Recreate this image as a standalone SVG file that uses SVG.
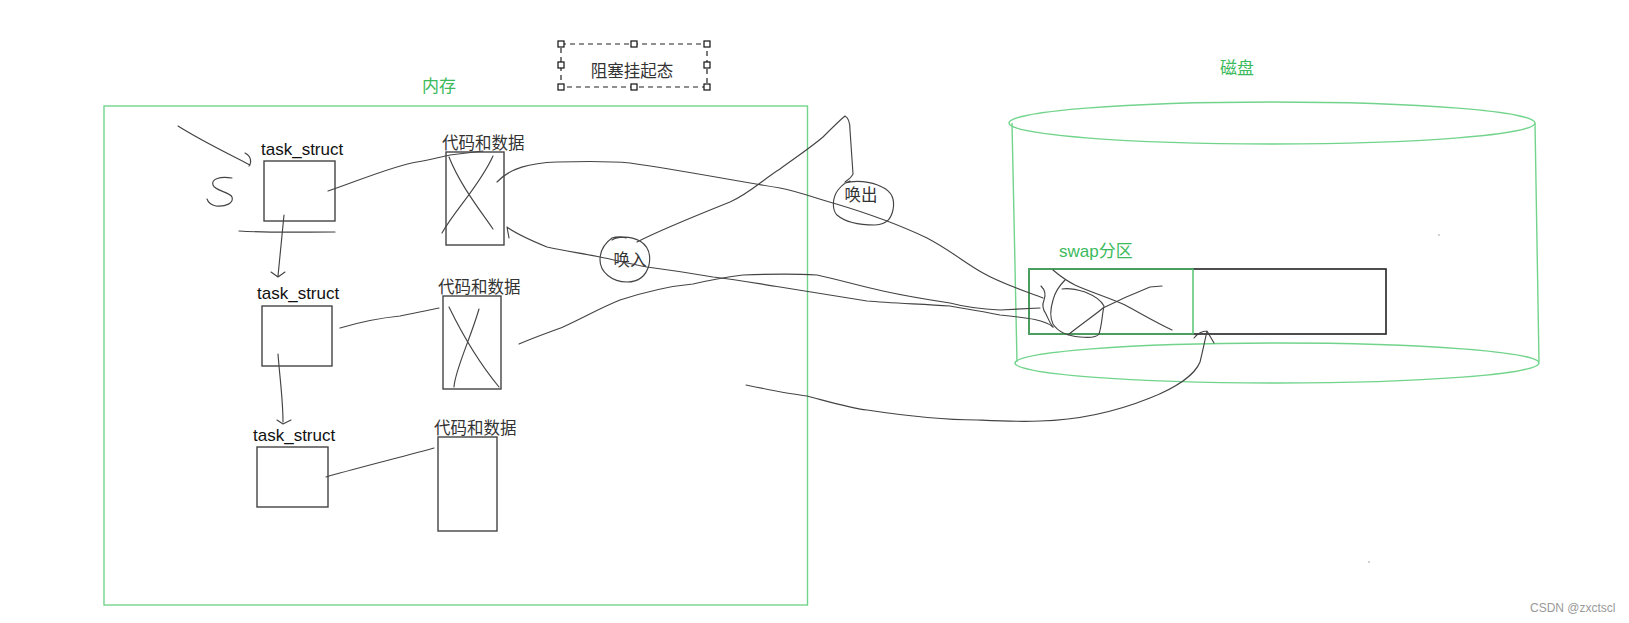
<svg xmlns="http://www.w3.org/2000/svg" width="1629" height="623" viewBox="0 0 1629 623">
<style>
.bx{fill:none;stroke:#444;stroke-width:1.4}
.hd{fill:none;stroke:#444;stroke-width:1.15;stroke-linecap:round;stroke-linejoin:round}
.gr{fill:none;stroke:#72d48c;stroke-width:1.4}
.ts{font-family:"Liberation Sans","Noto Sans",sans-serif;font-size:17px;fill:#111}
.cn{font-family:"Noto Sans CJK SC","Noto Sans",sans-serif;font-size:16.5px;fill:#333}
.gt{font-family:"Liberation Sans","Noto Sans CJK SC",sans-serif;font-size:17px;fill:#3cba5c}
.hdl{fill:#fff;stroke:#111;stroke-width:1.2}
</style>
<rect width="1629" height="623" fill="#fff"/>

<g id="memory">
<rect x="104" y="106" width="703.5" height="499" class="gr"/>
<text x="439" y="92" class="gt" text-anchor="middle" font-size="16">内存</text>
</g>

<g id="blocked-label">
<rect x="561" y="44" width="146" height="43" fill="none" stroke="#222" stroke-width="1.2" stroke-dasharray="5,4"/>
<rect x="558" y="41" width="6" height="6" class="hdl"/>
<rect x="631" y="41" width="6" height="6" class="hdl"/>
<rect x="704" y="41" width="6" height="6" class="hdl"/>
<rect x="558" y="62" width="6" height="6" class="hdl"/>
<rect x="704" y="62" width="6" height="6" class="hdl"/>
<rect x="558" y="84" width="6" height="6" class="hdl"/>
<rect x="631" y="84" width="6" height="6" class="hdl"/>
<rect x="704" y="84" width="6" height="6" class="hdl"/>
<text x="632" y="77" class="cn" text-anchor="middle" font-size="16" fill="#444">阻塞挂起态</text>
</g>

<g id="task1">
<rect x="264" y="161" width="71" height="60" class="bx"/>
<text x="261" y="155" class="ts">task_struct</text>
</g>
<g id="code1">
<rect x="446" y="152" width="58" height="93" class="bx"/>
<text x="442" y="149" class="cn">代码和数据</text>
<path class="hd" d="M449,157 C460,185 480,210 493,229 M493,156 C480,185 455,210 442,233"/>
</g>
<g id="task2">
<rect x="262" y="306" width="70" height="60" class="bx"/>
<text x="257" y="299" class="ts">task_struct</text>
</g>
<g id="code2">
<rect x="443" y="296" width="58" height="93" class="bx"/>
<text x="438" y="293" class="cn">代码和数据</text>
<path class="hd" d="M449,307 C465,340 485,370 499,387 M479,309 C470,340 455,370 454,387"/>
</g>
<g id="task3">
<rect x="257" y="447" width="71" height="60" class="bx"/>
<text x="253" y="441" class="ts">task_struct</text>
</g>
<g id="code3">
<rect x="438" y="437" width="59" height="94" class="bx"/>
<text x="434" y="434" class="cn">代码和数据</text>
</g>

<g id="disk">
<ellipse cx="1272" cy="123" rx="263" ry="21" class="gr"/>
<path class="gr" d="M1012,123 L1017,362 M1535,123 L1539,362"/>
<ellipse cx="1277" cy="363" rx="262" ry="20" class="gr"/>
<text x="1237" y="74" class="gt" text-anchor="middle">磁盘</text>
</g>

<g id="swap">
<rect x="1029" y="269" width="357" height="65" fill="none" stroke="#222" stroke-width="1.6"/>
<rect x="1029" y="269" width="164" height="65" fill="none" stroke="#4cc068" stroke-width="1.4"/>
<text x="1059" y="257" class="gt">swap分区</text>
<path class="hd" d="M1041,286 C1045,290 1046,295 1044,300 C1042,305 1043,310 1046,314 C1048,318 1049,322 1053,327"/>
<path class="hd" d="M1065,280 C1060,285 1055,292 1053,300 C1050,310 1050,318 1053,324 C1058,332 1068,336 1080,337 C1090,338 1097,337 1099,334 C1102,325 1102,315 1104,306 C1101,300 1095,296 1085,292 C1075,289 1068,288 1062,289"/>
<path class="hd" d="M1053,270 C1060,276 1065,280 1075,285 C1090,292 1110,298 1125,305 C1140,313 1155,322 1172,330"/>
<path class="hd" d="M1068,335 C1080,325 1095,315 1103,308 C1115,302 1130,295 1150,287 L1162,286"/>
</g>

<g id="swap-in">
<path class="hd" d="M612,240 C618,236 630,236 640,241 C648,246 651,255 649,265 C646,276 638,282 627,282 C612,282 600,272 600,260 C600,250 605,243 612,238 C618,236 624,237 626,238"/>
<text x="630" y="266" class="cn" text-anchor="middle" font-size="16">唤入</text>
</g>
<g id="swap-out">
<path class="hd" d="M845,183 C855,180 870,181 882,187 C893,192 895,200 893,210 C891,218 888,224 875,225 C860,225 845,222 837,215 C832,210 832,198 838,190 C842,185 846,182 850,181"/>
<text x="861" y="201" class="cn" text-anchor="middle" font-size="16">唤出</text>
</g>

<g id="connectors">
<path class="hd" d="M328,191 C350,184 395,165 417,162 C430,160 440,157 450,155 L483,151"/>
<path class="hd" d="M340,328 C360,322 380,318 400,316 C420,312 430,310 439,308"/>
<path class="hd" d="M326,477 C350,470 390,460 434,448"/>
<path class="hd" d="M284,215 C282,235 280,255 278,276 M271,272 L278,277 L285,272"/>
<path class="hd" d="M278,354 C280,380 283,400 283,422 M277,420 L283,424 L291,420"/>
<path class="hd" d="M239,231 C270,233 300,232 335,232"/>
<path class="hd" d="M178,126 C200,140 225,152 250,165 M245,153 C251,156 252,162 249,166"/>
<path class="hd" d="M232,178 C220,176 211,179 213,185 C215,191 230,192 232,197 C234,203 226,207 216,206 C211,205 208,202 207,199"/>
<path class="hd" d="M497,182 C510,168 530,163 557,162 C590,161 610,161 630,163 C680,170 730,180 780,188 C800,192 815,198 833,203 C870,214 900,225 927,238 C950,250 965,263 983,273 C1000,283 1025,291 1043,298"/>
<path class="hd" d="M1053,327 C1045,320 1030,318 1000,315 C975,310 960,308 950,306 C920,304 890,303 867,301 C830,295 800,290 780,287 C760,284 740,280 713,277 C690,273 670,270 647,267 C630,264 615,260 600,257 C580,253 565,251 547,247 C530,240 515,233 507,227 L509,238"/>
<path class="hd" d="M519,344 C535,337 550,332 563,327 C585,317 600,308 620,300 C645,292 670,286 693,284 C710,280 720,278 743,275 C770,274 800,274 817,275 C840,280 860,286 883,291 C910,297 930,300 950,303 C965,307 980,309 1000,310 L1040,308"/>
<path class="hd" d="M746,385 C770,390 790,394 807,396 C830,402 850,408 867,410 C900,415 940,420 977,420 C1000,421 1020,422 1040,421 C1080,420 1120,410 1150,398 C1175,388 1195,375 1200,362 C1203,350 1205,340 1207,331 M1194,338 C1198,333 1203,331 1207,331 L1214,343"/>
<path class="hd" d="M637,242 C660,230 690,218 730,202 C750,193 765,178 780,169 C795,158 810,148 823,137 C832,128 840,120 845,116 C849,118 850,122 850,130 C851,145 852,160 853,174 C851,178 848,180 845,182"/>
</g>

<circle cx="1439" cy="235" r="0.8" fill="#999"/>
<circle cx="1369" cy="562" r="0.8" fill="#999"/>
<text x="1530" y="612" font-family="Liberation Sans,sans-serif" font-size="12" fill="#999">CSDN @zxctscl</text>
</svg>
